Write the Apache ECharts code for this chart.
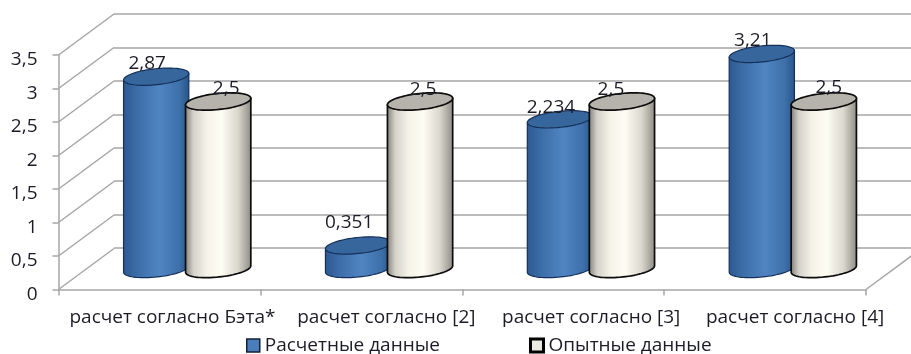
<!DOCTYPE html>
<html>
<head>
<meta charset="utf-8">
<style>html,body{margin:0;padding:0;background:#fff}#chart{width:911px;height:354px}</style>
<script src="https://cdn.jsdelivr.net/npm/echarts@6/dist/echarts.min.js"></script>
</head>
<body>
<div id="chart"></div>
<script>
// Chart data
const categories = ['расчет согласно Бэта*', 'расчет согласно [2]', 'расчет согласно [3]', 'расчет согласно [4]'];
const calculated = [2.87, 0.351, 2.234, 3.21];
const measured = [2.5, 2.5, 2.5, 2.5];
const valueTicks = [0, 0.5, 1, 1.5, 2, 2.5, 3, 3.5];

// Oblique projection of the box: how far the back wall sits from the front plane
const DEPTH_X = 55.5;
const DEPTH_Y = -41;

// Cylinder proportions
const RADIUS_X = 32.8;
const RADIUS_Y = 8;
const TILT = -6 * Math.PI / 180;
const SIDE_OFFSET = 31;

// Fine placement of the text around the marks
const CATEGORY_LABEL_SHIFT = [13, 25, 28, 30];
const LABEL_DX = {calc: [-9, -9, -9, -9], meas: [8, 3, -11, 5]};
const LABEL_DY = {calc: [-13, -23, -12, -13], meas: [-13, -12, -12, -14]};

const FONT = '"Open Sans", sans-serif';
const FONT_SIZE = 19;
const TEXT_COLOR = '#1c1c28';
const GRID_COLOR = '#a6a6a6';

const chart = echarts.init(document.getElementById('chart'), null, {renderer: 'canvas'});

function ellipsePoint(cx, cy, t) {
  const c = Math.cos(t), s = Math.sin(t);
  return [
    cx + RADIUS_X * c * Math.cos(TILT) - RADIUS_Y * s * Math.sin(TILT),
    cy + RADIUS_X * c * Math.sin(TILT) + RADIUS_Y * s * Math.cos(TILT)
  ];
}

function ellipseOutline(cx, cy) {
  const pts = [];
  for (let i = 0; i < 72; i++) pts.push(ellipsePoint(cx, cy, i / 72 * 2 * Math.PI));
  return pts;
}

function bodyOutline(cx, topY, baseY) {
  const pts = [];
  for (let i = 0; i <= 36; i++) pts.push(ellipsePoint(cx, baseY, i / 36 * Math.PI));
  pts.push(ellipsePoint(cx, topY, Math.PI));
  pts.push(ellipsePoint(cx, topY, 0));
  return pts;
}

// Draws one cylinder standing mid-way between the front plane and the back wall
function cylinderRenderer(side, look, key, level) {
  return function (params, api) {
    const idx = api.value(0), val = api.value(1);
    const base = api.coord([idx, 0]);
    const top = api.coord([idx, val]);
    const cx = base[0] + DEPTH_X / 2 + side * SIDE_OFFSET;
    const baseY = base[1] + DEPTH_Y / 2;
    const topY = top[1] + DEPTH_Y / 2;
    const fill = new echarts.graphic.LinearGradient(cx - RADIUS_X, 0, cx + RADIUS_X, 0, look.stops, true);
    return {
      type: 'group',
      children: [
        {
          type: 'polygon', z2: level,
          shape: {points: bodyOutline(cx, topY, baseY)},
          style: {fill: fill, stroke: look.edge, lineWidth: look.edgeWidth, lineJoin: 'round'}
        },
        {
          type: 'polygon', z2: level + 1,
          shape: {points: ellipseOutline(cx, topY)},
          style: {fill: look.cap, stroke: look.edge, lineWidth: look.edgeWidth}
        },
        {
          type: 'text', z2: 50,
          style: {
            text: String(val).replace('.', ','),
            x: cx + LABEL_DX[key][idx],
            y: topY + LABEL_DY[key][idx],
            align: 'center', verticalAlign: 'middle',
            font: FONT_SIZE + 'px ' + FONT, fill: TEXT_COLOR
          }
        }
      ]
    };
  };
}

const blueLook = {
  cap: '#37669c', edge: '#14305a', edgeWidth: 1.2,
  stops: [
    {offset: 0, color: '#2c5a90'}, {offset: 0.2, color: '#3c6ca6'},
    {offset: 0.55, color: '#5085c2'}, {offset: 0.85, color: '#3e70aa'}, {offset: 1, color: '#2a5688'}
  ]
};
const creamLook = {
  cap: '#b6b3ac', edge: '#0c0c0c', edgeWidth: 1.7,
  stops: [
    {offset: 0, color: '#85837c'}, {offset: 0.12, color: '#d3d1c8'}, {offset: 0.32, color: '#f5f3e8'},
    {offset: 0.55, color: '#fefdf3'}, {offset: 0.8, color: '#dad7cd'}, {offset: 1, color: '#8f8d86'}
  ]
};

function wallLine(x1, y1, x2, y2) {
  return {
    type: 'line', z2: 1,
    shape: {x1: x1, y1: y1, x2: x2, y2: y2},
    style: {stroke: GRID_COLOR, lineWidth: 1.5}
  };
}

chart.setOption({
  animation: false,
  backgroundColor: '#ffffff',
  textStyle: {fontFamily: FONT},
  legend: {
    left: 246, top: 336, padding: 0, itemWidth: 13, itemHeight: 13, itemGap: 89, icon: 'rect',
    textStyle: {fontFamily: FONT, fontSize: FONT_SIZE, color: TEXT_COLOR},
    data: [
      {name: 'Расчетные данные', itemStyle: {color: '#4a7ebb', borderColor: '#14203a', borderWidth: 1.5}},
      {name: 'Опытные данные', itemStyle: {color: '#ecebe2', borderColor: '#000000', borderWidth: 3}}
    ]
  },
  grid: [
    {left: 58.5, right: 45, top: 55, bottom: 64.5},
    {left: 114, right: 0, top: 14, bottom: 106}
  ],
  xAxis: [
    {
      type: 'category', gridIndex: 0,
      data: categories.map((name, i) => ({
        value: name,
        textStyle: {padding: [0, 0, 0, CATEGORY_LABEL_SHIFT[i] * 2]}
      })),
      axisLine: {lineStyle: {color: GRID_COLOR, width: 1.5}},
      axisTick: {show: true, length: 6, alignWithLabel: false, lineStyle: {color: GRID_COLOR, width: 1.5}},
      axisLabel: {interval: 0, margin: 19, fontFamily: FONT, fontSize: FONT_SIZE, color: TEXT_COLOR, hideOverlap: false}
    },
    {type: 'category', gridIndex: 1, show: false, data: categories}
  ],
  yAxis: [
    {
      type: 'value', gridIndex: 0, min: 0, max: 3.5, interval: 0.5,
      axisLine: {show: true, lineStyle: {color: GRID_COLOR, width: 1.5}},
      axisTick: {show: true, length: 6, lineStyle: {color: GRID_COLOR, width: 1.5}},
      splitLine: {show: false},
      axisLabel: {
        margin: 21, verticalAlign: 'top', lineHeight: 10, fontFamily: FONT, fontSize: FONT_SIZE, color: TEXT_COLOR,
        formatter: v => String(v).replace('.', ',')
      }
    },
    {
      type: 'value', gridIndex: 1, min: 0, max: 3.5, interval: 0.5,
      axisLine: {show: false}, axisTick: {show: false}, axisLabel: {show: false},
      splitLine: {show: true, lineStyle: {color: GRID_COLOR, width: 1.5}}
    }
  ],
  series: [
    {
      // Side wall diagonals joining the value axis to the back wall
      type: 'custom', name: 'wall', xAxisIndex: 0, yAxisIndex: 0, silent: true, clip: false,
      data: valueTicks.map(v => [0, v]),
      encode: {x: 0, y: 1},
      renderItem: function (params, api) {
        const sys = params.coordSys;
        const p = api.coord([0, api.value(1)]);
        const lines = [wallLine(sys.x, p[1], sys.x + DEPTH_X, p[1] + DEPTH_Y)];
        if (api.value(1) === 0) {
          const right = sys.x + sys.width;
          lines.push(wallLine(right, p[1], right + DEPTH_X, p[1] + DEPTH_Y));
        }
        return {type: 'group', children: lines};
      }
    },
    {
      type: 'custom', name: 'Расчетные данные', xAxisIndex: 0, yAxisIndex: 0, clip: false,
      itemStyle: {color: '#4a7ebb', borderColor: '#14203a', borderWidth: 1.5},
      data: calculated.map((v, i) => [i, v]),
      encode: {x: 0, y: 1},
      renderItem: cylinderRenderer(-1, blueLook, 'calc', 10)
    },
    {
      type: 'custom', name: 'Опытные данные', xAxisIndex: 0, yAxisIndex: 0, clip: false,
      itemStyle: {color: '#ecebe2', borderColor: '#000000', borderWidth: 3},
      data: measured.map((v, i) => [i, v]),
      encode: {x: 0, y: 1},
      renderItem: cylinderRenderer(1, creamLook, 'meas', 20)
    }
  ]
});
</script>
</body>
</html>
